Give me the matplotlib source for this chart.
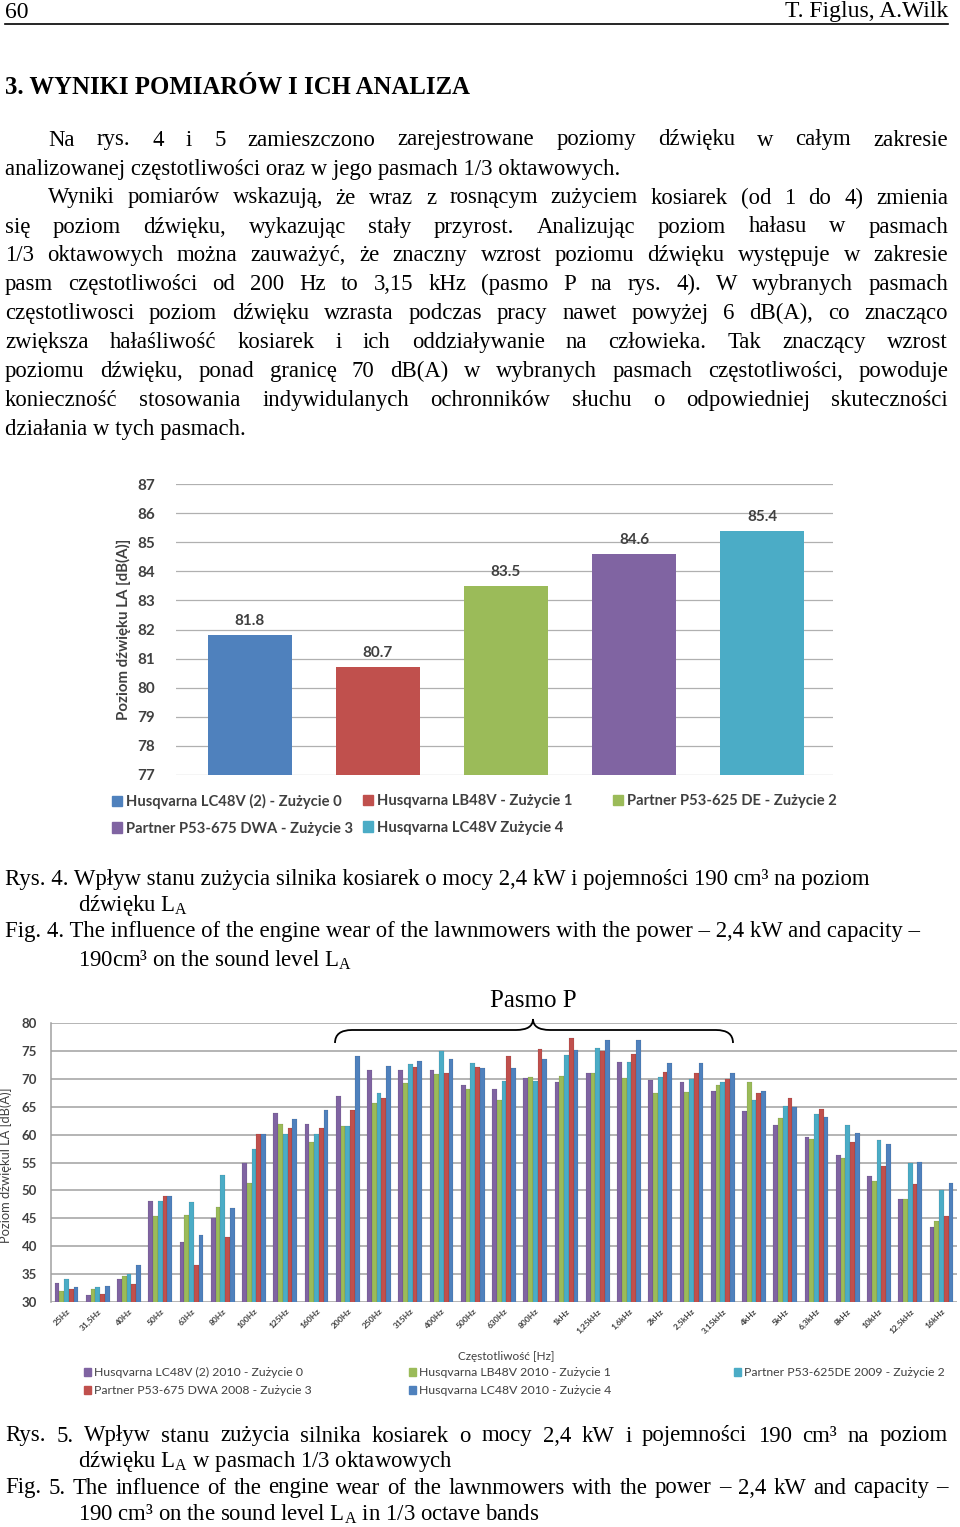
import numpy as np
import matplotlib.pyplot as plt
from matplotlib.patches import Patch, PathPatch
from matplotlib.path import Path

# chart 1 - total level
models1 = ['Husqvarna LC48V (2) - Zużycie 0', 'Husqvarna LB48V - Zużycie 1',
           'Partner P53-625 DE - Zużycie 2', 'Partner P53-675 DWA - Zużycie 3',
           'Husqvarna LC48V Zużycie 4']
level = [81.8, 80.7, 83.5, 84.6, 85.4]
colors1 = ['#4F81BD', '#C0504D', '#9BBB59', '#8064A2', '#4BACC6']

# chart 2 - 1/3 octave bands
freqs = ['25Hz', '31,5Hz', '40Hz', '50Hz', '63Hz', '80Hz', '100Hz', '125Hz', '160Hz',
         '200Hz', '250Hz', '315Hz', '400Hz', '500Hz', '630Hz', '800Hz', '1kHz',
         '1,25kHz', '1,6kHz', '2kHz', '2,5kHz', '3,15kHz', '4kHz', '5kHz', '6,3kHz',
         '8kHz', '10kHz', '12,5kHz', '16kHz']
wear0 = [33.4, 31.3, 34.1, 48.1, 40.7, 45.0, 55.0, 63.8, 61.9, 66.9, 71.6, 71.6, 71.6, 68.8,
         68.1, 70.1, 69.5, 71.0, 73.1, 69.7, 69.4, 67.8, 64.3, 61.7, 59.5, 56.3, 52.5, 48.5, 43.5]
wear1 = [32.0, 32.4, 34.6, 45.4, 45.6, 47.0, 51.4, 61.9, 58.7, 61.6, 65.7, 69.3, 70.9, 68.2,
         66.2, 70.3, 70.5, 71.1, 70.1, 67.4, 67.7, 68.8, 69.5, 63.0, 59.3, 55.8, 51.7, 48.4, 44.5]
wear2 = [34.1, 32.6, 35.1, 48.1, 47.9, 52.7, 57.5, 60.1, 60.1, 61.6, 67.5, 72.6, 75.0, 72.8,
         69.6, 69.6, 74.2, 75.5, 73.1, 70.3, 70.0, 69.5, 66.2, 65.2, 63.7, 61.7, 59.0, 55.0, 50.0]
wear3 = [32.4, 31.5, 33.3, 49.0, 36.7, 41.6, 60.1, 61.1, 61.1, 64.4, 66.5, 72.1, 71.1, 72.2,
         74.1, 75.4, 77.4, 75.0, 74.4, 71.3, 71.1, 70.0, 67.5, 66.6, 64.6, 58.6, 54.4, 51.2, 45.5]
wear4 = [32.6, 32.8, 36.6, 49.0, 42.0, 46.8, 60.1, 62.8, 64.4, 74.1, 72.3, 73.2, 73.5, 71.9,
         72.0, 73.6, 75.1, 77.0, 77.0, 72.8, 72.8, 71.1, 67.8, 65.0, 63.2, 60.2, 58.3, 55.1, 51.4]
series2 = [wear0, wear1, wear2, wear3, wear4]
names2 = ['Husqvarna LC48V (2) 2010 - Zużycie 0', 'Husqvarna LB48V 2010 - Zużycie 1',
          'Partner P53-625DE 2009 - Zużycie 2', 'Partner P53-675 DWA 2008 - Zużycie 3',
          'Husqvarna LC48V 2010 - Zużycie 4']
colors2 = ['#8064A2', '#9BBB59', '#4BACC6', '#C0504D', '#4F81BD']

W, H = 960, 1527
fig = plt.figure(figsize=(9.6, 15.27), dpi=100)
r = fig.canvas.get_renderer()

def fx(x):
    return x / W

def fy(y):
    return 1 - y / H

SERIF = 'Liberation Serif'
FS = 16.4
SANS = 'Lato'

def put(x, y, s, **kw):
    kw.setdefault('fontsize', FS)
    return fig.text(fx(x), fy(y), s, family=SERIF, va='center', **kw)

def justify(x0, x1, y, s):
    words = s.split(' ')
    arts = [put(x0, y, w) for w in words]
    widths = [a.get_window_extent(r).width for a in arts]
    gap = (x1 - x0 - sum(widths)) / (len(words) - 1)
    x = x0
    for a, w in zip(arts, widths):
        a.set_x(fx(x))
        x += w + gap

# page header
put(5, 12, '60', fontsize=17)
put(948, 12, 'T. Figlus, A.Wilk', ha='right', fontsize=17)
fig.add_artist(plt.Line2D([fx(5), fx(948)], [fy(24), fy(24)], color='black', lw=1.2))
put(5, 87, '3. WYNIKI POMIARÓW I ICH ANALIZA', fontweight='bold', fontsize=17.8)

# body text
justify(48, 948, 140, 'Na rys. 4 i 5 zamieszczono zarejestrowane poziomy dźwięku w całym zakresie')
put(5, 169, 'analizowanej częstotliwości oraz w jego pasmach 1/3 oktawowych.')
justify(48, 948, 198, 'Wyniki pomiarów wskazują, że wraz z rosnącym zużyciem kosiarek (od 1 do 4) zmienia')
body = [
    'się poziom dźwięku, wykazując stały przyrost. Analizując poziom hałasu w pasmach',
    '1/3 oktawowych można zauważyć, że znaczny wzrost poziomu dźwięku występuje w zakresie',
    'pasm częstotliwości od 200 Hz to 3,15 kHz (pasmo P na rys. 4). W wybranych pasmach',
    'częstotliwosci poziom dźwięku wzrasta podczas pracy nawet powyżej 6 dB(A), co znacząco',
    'zwiększa hałaśliwość kosiarek i ich oddziaływanie na człowieka. Tak znaczący wzrost',
    'poziomu dźwięku, ponad granicę 70 dB(A) w wybranych pasmach częstotliwości, powoduje',
    'konieczność stosowania indywidulanych ochronników słuchu o odpowiedniej skuteczności',
]
for i, line in enumerate(body):
    justify(5, 948, 227 + i * 28.9, line)
put(5, 429, 'działania w tych pasmach.')

# ---------------- chart 1 ----------------
ax1 = fig.add_axes([fx(176), fy(775), (833 - 176) / W, (775 - 484) / H])
x1 = np.arange(len(level))
bars = ax1.bar(x1, level, width=0.656, color=colors1, zorder=2)
ax1.bar_label(bars, labels=[f'{v:.1f}' for v in level], padding=5,
              family=SANS, fontweight='bold', fontsize=11, color='#404040')
ax1.set_ylim(77, 87)
ax1.set_yticks(range(77, 88))
ax1.set_xlim(-0.578, 4.555)
ax1.set_xticks([])
ax1.grid(axis='y', color='#b0b0b0', lw=0.9, zorder=0)
for s in ax1.spines.values():
    s.set_visible(False)
ax1.tick_params(axis='y', length=0, pad=15, labelsize=11, labelcolor='#404040')
for t in ax1.get_yticklabels():
    t.set_family(SANS)
    t.set_fontweight('bold')
ax1.set_ylabel('Poziom dźwięku LA [dB(A)]', family=SANS, fontweight='bold',
               fontsize=10.8, color='#404040')
ax1.yaxis.set_label_coords(-0.068, 0.5)

h1 = [Patch(color=c) for c in colors1]
cols1 = [([0, 3], 112), ([1, 4], 363), ([2], 613)]
for idx, xpos in cols1:
    fig.legend([h1[i] for i in idx], [models1[i] for i in idx], loc='upper left',
               bbox_to_anchor=(fx(xpos), fy(794)), frameon=False, borderpad=0,
               borderaxespad=0, handlelength=0.7, handleheight=0.7,
               handletextpad=0.25, labelspacing=0.85,
               prop={'family': SANS, 'weight': 'bold', 'size': 10.6}, labelcolor='#404040')

put(5, 880, 'Rys. 4. Wpływ stanu zużycia silnika kosiarek o mocy 2,4 kW i pojemności 190 cm³ na poziom')
put(78, 906, r'dźwięku L$_\mathregular{A}$')
put(5, 932, 'Fig. 4. The influence of the engine wear of the lawnmowers with the power – 2,4 kW and capacity –')
put(78, 960, r'190cm³ on the sound level L$_\mathregular{A}$')

# ---------------- chart 2 ----------------
ax2 = fig.add_axes([fx(51), fy(1302), (957 - 51) / W, (1302 - 1023) / H])
xs = np.arange(len(freqs))
bw = 0.152
for k, (vals, c) in enumerate(zip(series2, colors2)):
    ax2.bar(xs + (k - 2) * bw, vals, width=bw, color=c, edgecolor='#00000030',
            lw=0.3, zorder=2, label=names2[k])
ax2.set_ylim(30, 80)
ax2.set_yticks(range(30, 81, 5))
ax2.set_xlim(-0.5, len(freqs) - 0.5)
ax2.set_xticks(xs)
ax2.set_xticklabels(freqs, rotation=45, ha='right', rotation_mode='anchor',
                    family=SANS, fontweight='bold', fontsize=6, color='#404040')
ax2.grid(axis='y', color='#a0a0a0', lw=1.1, zorder=0)
for name in ['top', 'right', 'bottom']:
    ax2.spines[name].set_visible(False)
ax2.spines['left'].set_color('#a0a0a0')
ax2.spines['left'].set_linewidth(1.1)
ax2.tick_params(axis='x', length=0, pad=4)
ax2.tick_params(axis='y', length=0, pad=10, labelsize=9.5, labelcolor='#404040')
for t in ax2.get_yticklabels():
    t.set_family(SANS)
    t.set_fontweight('bold')
ax2.set_ylabel('Poziom dźwiękul LA [dB(A)]', family=SANS, fontsize=9.3, color='#404040')
ax2.yaxis.set_label_coords(-0.043, 0.49)
ax2.set_xlabel('Częstotliwość [Hz]', family=SANS, fontsize=8.5, color='#404040')
ax2.xaxis.set_label_coords(0.503, -0.175)

h2 = [Patch(color=c) for c in colors2]
cols2 = [([0, 3], 84), ([1, 4], 409), ([2], 734)]
for idx, xpos in cols2:
    fig.legend([h2[i] for i in idx], [names2[i] for i in idx], loc='upper left',
               bbox_to_anchor=(fx(xpos), fy(1367)), frameon=False, borderpad=0,
               borderaxespad=0, handlelength=0.6, handleheight=0.6,
               handletextpad=0.25, labelspacing=0.6,
               prop={'family': SANS, 'size': 8.8}, labelcolor='#404040')

# brace over band P
bx0, bx1, bxm, by, ytop, yend = 335, 733, 533, 1030, 1019, 1043
verts = [(bx0, yend), (bx0, by), (bx0 + 17, by), (bxm - 17, by), (bxm, by), (bxm, ytop),
         (bxm, by), (bxm + 17, by), (bx1 - 17, by), (bx1, by), (bx1, yend)]
codes = [Path.MOVETO, Path.CURVE3, Path.CURVE3, Path.LINETO, Path.CURVE3, Path.CURVE3,
         Path.CURVE3, Path.CURVE3, Path.LINETO, Path.CURVE3, Path.CURVE3]
brace = Path([(fx(a), fy(b)) for a, b in verts], codes)
fig.add_artist(PathPatch(brace, transform=fig.transFigure, fill=False, lw=1.3, color='black'))
put(533, 1001, 'Pasmo P', ha='center', fontsize=18)

justify(5, 948, 1436, 'Rys. 5. Wpływ stanu zużycia silnika kosiarek o mocy 2,4 kW i pojemności 190 cm³ na poziom')
put(78, 1462, r'dźwięku L$_\mathregular{A}$ w pasmach 1/3 oktawowych')
justify(5, 948, 1488, 'Fig. 5. The influence of the engine wear of the lawnmowers with the power – 2,4 kW and capacity –')
put(78, 1514, r'190 cm³ on the sound level L$_\mathregular{A}$ in 1/3 octave bands')

fig.savefig('out.png', dpi=100)
